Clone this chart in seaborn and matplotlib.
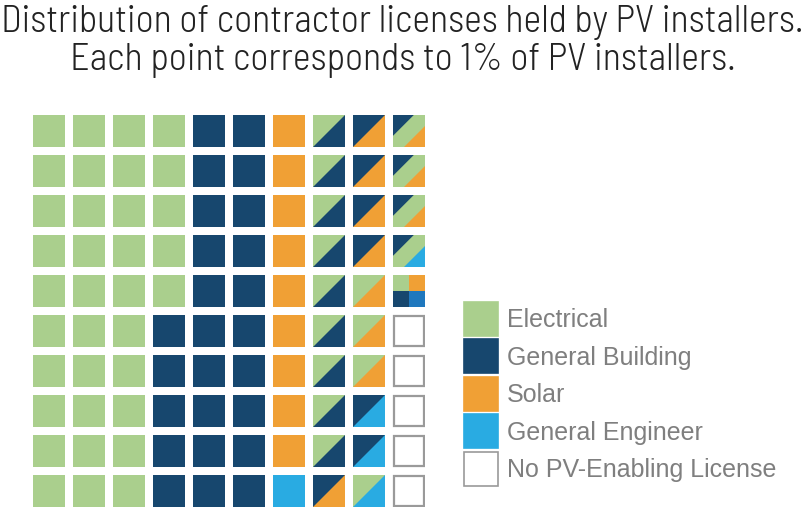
import matplotlib
matplotlib.use("Agg")
import matplotlib.pyplot as plt
from matplotlib.patches import Polygon, Rectangle, Patch
import seaborn as sns

# license categories and colours
categories = ["Electrical", "General Building", "Solar", "General Engineer", "No PV-Enabling License"]
codes = ["E", "G", "S", "N", "X"]
colors = ["#aacf8d", "#17476e", "#f0a035", "#29abe2", "#ffffff"]
quad_blue = "#1f78be"

# one list per column, top row first.
# two letters = upper-left / lower-right halves, three letters = diagonal bands,
# Q = four quadrants
col0 = ["E"] * 10
col1 = ["E"] * 10
col2 = ["E"] * 10
col3 = ["E"] * 5 + ["G"] * 5
col4 = ["G"] * 10
col5 = ["G"] * 10
col6 = ["S"] * 9 + ["N"]
col7 = ["EG"] * 9 + ["GS"]
col8 = ["GS"] * 4 + ["ES"] * 3 + ["GN"] * 2 + ["EN"]
col9 = ["GES"] * 3 + ["GEN"] + ["Q"] + ["X"] * 5
columns = [col0, col1, col2, col3, col4, col5, col6, col7, col8, col9]

title_lines = ["Distribution of contractor licenses held by PV installers.",
               "Each point corresponds to 1% of PV installers."]

sns.set_style("white")
cmap = dict(zip(codes, colors))

W, H = 805, 515
fig = plt.figure(figsize=(W / 100, H / 100), dpi=100)
ax = fig.add_axes([33 / W, 8 / H, 392 / W, 392 / H])
s = 0.8


def tri(ax, x, y, uv, c):
    ax.add_patch(Polygon([(x + u * s, y + v * s) for u, v in uv], closed=True,
                         facecolor=c, edgecolor="none", lw=0))


for ci, col in enumerate(columns):
    for ri, code in enumerate(col):
        x, y = ci, ri
        if code == "X":
            ax.add_patch(Rectangle((x + 0.03, y + 0.03), s - 0.06, s - 0.06,
                                   facecolor="white", edgecolor="#9a9a9a", lw=1.6))
        elif code == "Q":
            h = s / 2
            for (dx, dy), c in zip([(0, 0), (h, 0), (0, h), (h, h)],
                                   [cmap["E"], cmap["S"], cmap["G"], quad_blue]):
                ax.add_patch(Rectangle((x + dx, y + dy), h, h, facecolor=c, lw=0))
        elif len(code) == 1:
            ax.add_patch(Rectangle((x, y), s, s, facecolor=cmap[code], lw=0))
        elif len(code) == 2:
            ax.add_patch(Rectangle((x, y), s, s, facecolor=cmap[code[1]], lw=0))
            tri(ax, x, y, [(0, 0), (1, 0), (0, 1)], cmap[code[0]])
        else:
            a, b = 0.65, 0.35
            ax.add_patch(Rectangle((x, y), s, s, facecolor=cmap[code[1]], lw=0))
            tri(ax, x, y, [(0, 0), (a, 0), (0, a)], cmap[code[0]])
            tri(ax, x, y, [(1, b), (1, 1), (b, 1)], cmap[code[2]])

ax.set_xlim(0, 9.8)
ax.set_ylim(9.8, 0)
ax.set_axis_off()

# title
tfont = dict(family=["Barlow Semi Condensed", "Open Sans", "DejaVu Sans"], weight=300,
             stretch="semi-condensed", color="#222222", fontsize=27.4)
fig.text(0.5, 1 - 32 / H, title_lines[0], ha="center", va="baseline", **tfont)
fig.text(0.5, 1 - 70 / H, title_lines[1], ha="center", va="baseline", **tfont)

# legend
handles = [Patch(facecolor=c, edgecolor="#9a9a9a" if c == "#ffffff" else c, lw=1.2)
           for c in colors]
fig.legend(handles, categories, loc="upper left",
           bbox_to_anchor=(464 / W, 1 - 302 / H), frameon=False,
           prop=dict(family="Liberation Sans", size=18), labelcolor="#7f7f7f",
           handlelength=1.36, handleheight=1.715, handletextpad=0.36,
           labelspacing=0.14, borderpad=0, borderaxespad=0)

fig.savefig("out.png", dpi=100)
